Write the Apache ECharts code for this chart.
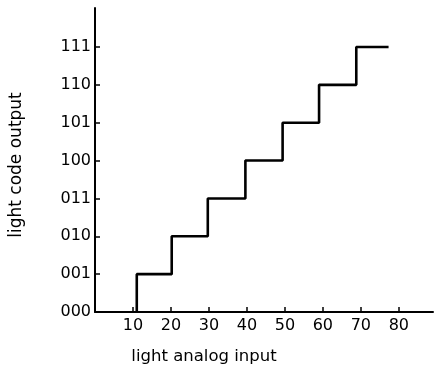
<!DOCTYPE html>
<html>
<head>
<meta charset="utf-8">
<script src="https://cdn.jsdelivr.net/npm/echarts@6/dist/echarts.min.js"></script>
<style>
html,body{margin:0;padding:0;background:#fff;}
#chart{width:434px;height:370px;}
</style>
</head>
<body>
<div id="chart"></div>
<script>
// Analog input where each code step occurs
const stepInputs = [11, 20.2, 29.7, 39.6, 49.4, 59, 68.8];
// Output code level reached at each step
const codeLevels = [1, 2, 3, 4, 5, 6, 7];
// Input where the curve ends
const endInput = 77.3;
// Tick labels
const yTickLabels = ['000', '001', '010', '011', '100', '101', '110', '111'];
const xTickValues = [10, 20, 30, 40, 50, 60, 70, 80];

// Build stair-step corner points from the arrays
const points = [];
let prev = 0;
for (let i = 0; i < stepInputs.length; i++) {
  points.push([stepInputs[i], prev]);
  points.push([stepInputs[i], codeLevels[i]]);
  prev = codeLevels[i];
}
points.push([endInput, prev]);

const font = 'DejaVu Sans';
const chart = echarts.init(document.getElementById('chart'), null, {renderer: 'canvas'});
chart.setOption({
  animation: false,
  backgroundColor: '#fff',
  grid: {left: 92, right: 1, top: 8, bottom: 57, containLabel: false},
  xAxis: {
    type: 'value', min: 0, max: 89,
    name: 'light analog input',
    nameLocation: 'middle', nameGap: 36,
    nameTextStyle: {fontFamily: font, fontSize: 16.5, color: '#000', padding: [0, 120, 0, 0]},
    axisLine: {show: true, lineStyle: {color: '#000', width: 2}},
    axisTick: {show: true, inside: true, length: 5, lineStyle: {color: '#000', width: 1.5}, customValues: xTickValues},
    axisLabel: {show: true, margin: 6, fontFamily: font, fontSize: 16, color: '#000', customValues: xTickValues},
    splitLine: {show: false}
  },
  yAxis: {
    type: 'value', min: 0, max: 8.03,
    name: 'light code output',
    nameLocation: 'middle', nameGap: 70, nameRotate: 90,
    nameTextStyle: {fontFamily: font, fontSize: 17, color: '#000', padding: [0, 10, 0, 0]},
    axisLine: {show: true, lineStyle: {color: '#000', width: 2}},
    axisTick: {show: true, inside: true, length: 5, lineStyle: {color: '#000', width: 1.5}, customValues: yTickLabels.map((_, i) => i)},
    axisLabel: {show: true, margin: 4, fontFamily: font, fontSize: 16, color: '#000',
      customValues: yTickLabels.map((_, i) => i),
      formatter: v => yTickLabels[Math.round(v)] || ''},
    splitLine: {show: false}
  },
  series: [{
    type: 'line',
    data: points,
    showSymbol: false,
    lineStyle: {color: '#000', width: 2.6},
    clip: false
  }]
});
</script>
</body>
</html>
